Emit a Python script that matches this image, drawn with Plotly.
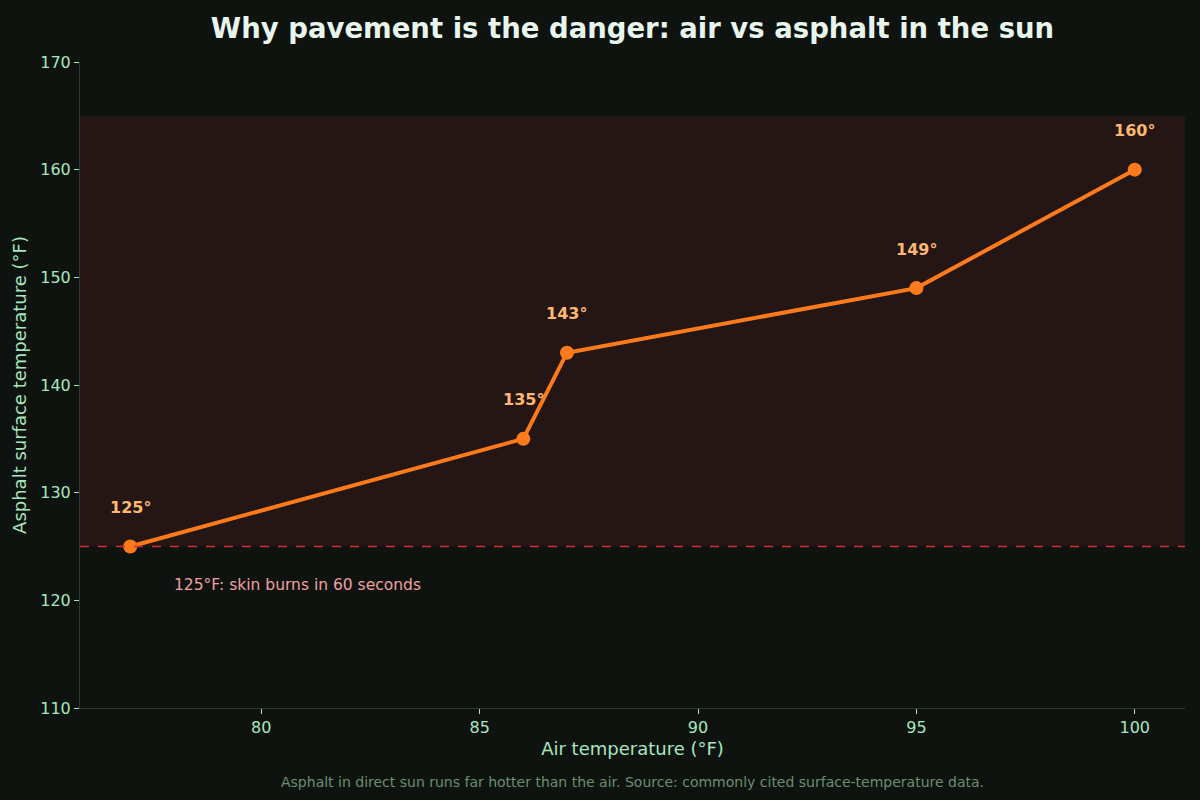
import plotly.graph_objects as go

# data
air_temp = [77, 86, 87, 95, 100]
asphalt_temp = [125, 135, 143, 149, 160]
point_labels = ["125°", "135°", "143°", "149°", "160°"]

burn_threshold = 125
danger_top = 165

trace = go.Scatter(
    x=air_temp, y=asphalt_temp, mode="lines+markers",
    line=dict(color="#ff7a1a", width=4),
    marker=dict(color="#ff7a1a", size=14),
    hoverinfo="x+y", showlegend=False,
)

fig = go.Figure(data=[trace])

# danger zone band and burn threshold line
fig.add_shape(type="rect", xref="paper", yref="y", x0=0, x1=1,
              y0=burn_threshold, y1=danger_top,
              fillcolor="#231614", line_width=0, layer="below")
fig.add_shape(type="line", xref="paper", yref="y", x0=0, x1=1,
              y0=burn_threshold, y1=burn_threshold,
              line=dict(color="#d03030", width=1.5, dash="dash"))

for x, y, lab in zip(air_temp, asphalt_temp, point_labels):
    fig.add_annotation(x=x, y=y, text="<b>" + lab + "</b>", showarrow=False,
                       yshift=39, font=dict(color="#ffb870", size=16))

fig.add_annotation(x=77.95, y=burn_threshold, text="125°F: skin burns in 60 seconds",
                   showarrow=False, xanchor="left", yshift=-38,
                   font=dict(color="#f0a0a0", size=15.5))

fig.add_annotation(x=0.5, y=-0.13, xref="paper", yref="paper",
                   text="Asphalt in direct sun runs far hotter than the air. "
                        "Source: commonly cited surface-temperature data.",
                   showarrow=False, font=dict(color="#6b8f6f", size=14))

fig.update_layout(
    width=1200, height=800,
    paper_bgcolor="#0e1310", plot_bgcolor="#0e1310",
    font=dict(family="DejaVu Sans", color="#a8e6bf"),
    title=dict(text="<b>Why pavement is the danger: air vs asphalt in the sun</b>",
               xref="paper", x=0.5, xanchor="center",
               y=0.965, yanchor="middle",
               font=dict(size=27.5, color="#e8f5ec")),
    margin=dict(l=80, r=15, t=62, b=92),
    xaxis=dict(title=dict(text="Air temperature (°F)", font=dict(size=18), standoff=6),
               range=[75.85, 101.15], tickvals=[80, 85, 90, 95, 100],
               showgrid=False, zeroline=False, showline=True, linecolor="#2a3a2e",
               ticks="outside", ticklen=5, tickcolor="#a8e6bf",
               tickfont=dict(size=16)),
    yaxis=dict(title=dict(text="Asphalt surface temperature (°F)", font=dict(size=18), standoff=8),
               range=[110, 170], dtick=10,
               showgrid=False, zeroline=False, showline=True, linecolor="#2a3a2e",
               ticks="outside", ticklen=5, tickcolor="#a8e6bf",
               tickfont=dict(size=16)),
)

# drop the default page margin so the figure fills the window
fig.write_html("out.html", config={"displayModeBar": False},
               post_script="document.body.style.margin='0';")
